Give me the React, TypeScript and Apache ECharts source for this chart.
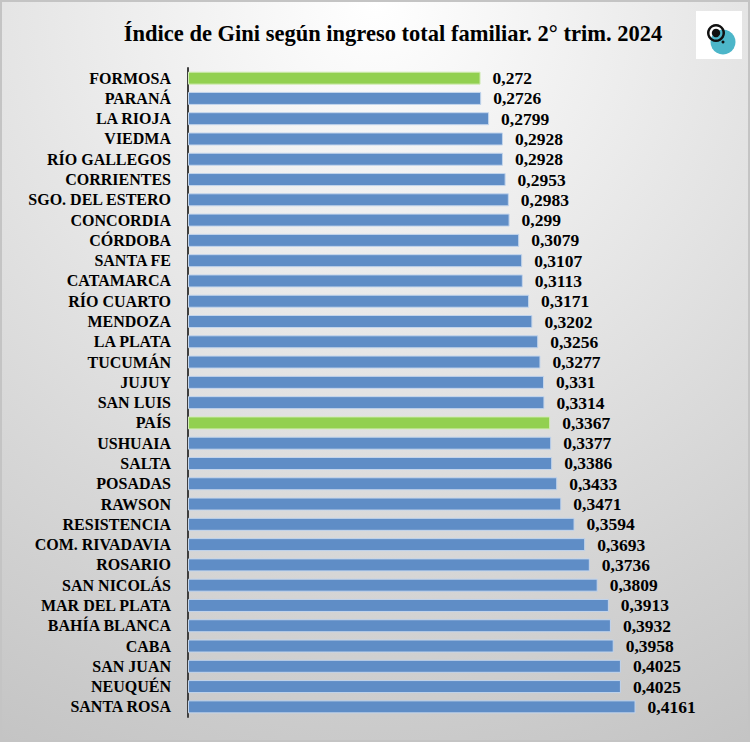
import React, { useEffect, useRef } from "react";
import * as echarts from "echarts";

const TITLE = "Índice de Gini según ingreso total familiar. 2° trim. 2024";

const categories = [
  "FORMOSA", "PARANÁ", "LA RIOJA", "VIEDMA", "RÍO GALLEGOS", "CORRIENTES",
  "SGO. DEL ESTERO", "CONCORDIA", "CÓRDOBA", "SANTA FE", "CATAMARCA",
  "RÍO CUARTO", "MENDOZA", "LA PLATA", "TUCUMÁN", "JUJUY", "SAN LUIS",
  "PAÍS", "USHUAIA", "SALTA", "POSADAS", "RAWSON", "RESISTENCIA",
  "COM. RIVADAVIA", "ROSARIO", "SAN NICOLÁS", "MAR DEL PLATA",
  "BAHÍA BLANCA", "CABA", "SAN JUAN", "NEUQUÉN", "SANTA ROSA",
];

const giniValues = [
  0.272, 0.2726, 0.2799, 0.2928, 0.2928, 0.2953, 0.2983, 0.299, 0.3079,
  0.3107, 0.3113, 0.3171, 0.3202, 0.3256, 0.3277, 0.331, 0.3314, 0.3367,
  0.3377, 0.3386, 0.3433, 0.3471, 0.3594, 0.3693, 0.3736, 0.3809, 0.3913,
  0.3932, 0.3958, 0.4025, 0.4025, 0.4161,
];

const highlighted = ["FORMOSA", "PAÍS"];

const FONT = "'Liberation Serif', 'DejaVu Serif', serif";

export default function App() {
  const ref = useRef<HTMLDivElement>(null);
  useEffect(() => {
    document.body.style.margin = "0";
    if (!ref.current) return;
    const chart = echarts.init(ref.current, undefined, { renderer: "svg" });
    chart.setOption({
      animation: false,
      backgroundColor: {
        type: "radial",
        x: 0.5,
        y: 0,
        r: 1.25,
        colorStops: [
          { offset: 0, color: "#ffffff" },
          { offset: 1, color: "#bdbdbd" },
        ],
      },
      title: {
        text: TITLE,
        left: 386,
        top: 15,
        textAlign: "center",
        textStyle: {
          fontFamily: FONT,
          fontWeight: "bold",
          fontSize: 22.5,
          color: "#000",
        },
      },
      graphic: [
        { type: "rect", shape: { x: 694, y: 9, width: 46, height: 48 }, style: { fill: "#ffffff" } },
        { type: "circle", shape: { cx: 721, cy: 40, r: 12.5 }, style: { fill: "#4cb6c9" } },
        { type: "ring", shape: { cx: 714, cy: 31, r: 9, r0: 6.5 }, style: { fill: "#111" } },
        { type: "circle", shape: { cx: 714, cy: 31, r: 4.2 }, style: { fill: "#111" } },
        { type: "circle", shape: { cx: 721, cy: 40, r: 1.5 }, style: { fill: "#111" } },
      ],
      grid: { left: 186, top: 66, width: 484, height: 649, containLabel: false },
      xAxis: {
        type: "value",
        min: 0,
        max: 0.45,
        show: false,
        splitLine: { show: false },
      },
      yAxis: {
        type: "category",
        data: categories,
        inverse: true,
        axisLine: { show: true, lineStyle: { color: "#3f3f3f", width: 2 } },
        axisTick: { show: false },
        axisLabel: {
          interval: 0,
          margin: 17,
          fontFamily: FONT,
          fontWeight: "bold",
          fontSize: 16,
          color: "#000",
        },
      },
      series: [
        {
          type: "bar",
          barWidth: 13,
          data: giniValues.map((v, i) => ({
            value: v,
            itemStyle: {
              color: highlighted.includes(categories[i]) ? "#92d050" : "#5f8dc6",
              borderColor: highlighted.includes(categories[i]) ? "#d4ecb8" : "#c3d5ec",
              borderWidth: 1,
            },
          })),
          label: {
            show: true,
            position: "right",
            distance: 12,
            fontFamily: FONT,
            fontWeight: "bold",
            fontSize: 17.5,
            color: "#000",
            formatter: (p: any) => String(p.value).replace(".", ","),
          },
        },
      ],
    });
    return () => chart.dispose();
  }, []);
  return (
    <div
      ref={ref}
      style={{
        position: "absolute",
        left: 0,
        top: 0,
        width: 746,
        height: 738,
        border: "2px solid #c4c4c4",
      }}
    />
  );
}
